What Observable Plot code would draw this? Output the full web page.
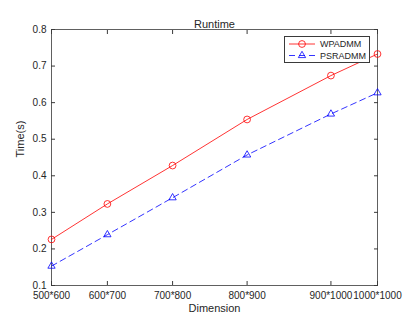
<!DOCTYPE html>
<html><head><meta charset="utf-8">
<script src="https://cdn.jsdelivr.net/npm/d3@7"></script>
<script src="https://cdn.jsdelivr.net/npm/@observablehq/plot@0.6"></script>
<style>
body{margin:0;background:#fff;}
#wrap{position:relative;width:416px;height:321px;font-family:"Liberation Sans",Arial,sans-serif;}
#legend{position:absolute;left:284px;top:36px;width:86px;height:27px;background:#fff;border:1px solid #3a3a3a;box-sizing:border-box;overflow:visible;}
</style></head>
<body><div id="wrap"></div>
<script>
const dims = ["500*600","600*700","700*800","800*900","900*1000","1000*1000"];
const sizes = [300000,420000,560000,720000,900000,1000000];
const wpadmm = [0.226,0.323,0.428,0.554,0.674,0.733];
const psradmm = [0.153,0.239,0.340,0.457,0.569,0.627];
const yTicks = [0.1,0.2,0.3,0.4,0.5,0.6,0.7,0.8];

const dataW = sizes.map((s,i)=>({x:s,y:wpadmm[i]}));
const dataP = sizes.map((s,i)=>({x:s,y:psradmm[i]}));
const lab = new Map(sizes.map((s,i)=>[s,dims[i]]));
const ink = "#262626";
const axc = "#3a3a3a";

const chart = Plot.plot({
  width:416, height:321,
  marginLeft:51, marginRight:39, marginTop:29, marginBottom:36,
  style:{fontFamily:"Liberation Sans, Arial, sans-serif", fontSize:"10px", color:ink, background:"#fff"},
  x:{type:"linear", domain:[300000,1000000]},
  y:{domain:[0.1,0.8]},
  marks:[
    Plot.frame({stroke:axc, strokeWidth:0.8}),
    Plot.axisX({ticks:sizes, tickSize:0, tickPadding:6, tickFormat:d=>lab.get(d), fontSize:10, fill:ink, label:null}),
    Plot.axisX({ticks:sizes, anchor:"bottom", tickSize:-4, tickFormat:()=>"", label:null, stroke:axc}),
    Plot.axisX({ticks:sizes, anchor:"top", tickSize:-4, tickFormat:()=>"", label:null, stroke:axc}),
    Plot.axisY({ticks:yTicks, tickSize:0, tickPadding:5, tickFormat:d=>d.toFixed(1), fontSize:10, fill:ink, label:null}),
    Plot.axisY({ticks:yTicks, anchor:"left", tickSize:-4, tickFormat:()=>"", label:null, stroke:axc}),
    Plot.axisY({ticks:yTicks, anchor:"right", tickSize:-4, tickFormat:()=>"", label:null, stroke:axc}),
    Plot.line(dataW,{x:"x",y:"y",stroke:"#ff0000",strokeWidth:0.8}),
    Plot.dot(dataW,{x:"x",y:"y",stroke:"#ff0000",r:3.4,strokeWidth:0.8,fill:"none"}),
    Plot.line(dataP,{x:"x",y:"y",stroke:"#0000ff",strokeWidth:0.8,strokeDasharray:"6,4"}),
    Plot.dot(dataP,{x:"x",y:"y",stroke:"#0000ff",symbol:"triangle",r:2.7,strokeWidth:0.8,fill:"none"}),
    Plot.text(["Runtime"],{frameAnchor:"top",dy:-9,fontSize:11,fill:ink}),
    Plot.text(["Dimension"],{frameAnchor:"bottom",dy:26,fontSize:11,fill:ink}),
    Plot.text(["Time(s)"],{frameAnchor:"left",dx:-31,rotate:-90,fontSize:11,fill:ink})
  ]
});
const wrap = document.getElementById("wrap");
wrap.appendChild(chart);
const leg = document.createElement("div");
leg.id="legend";
const tri = d3.symbol(d3.symbolTriangle, Math.PI*2.7*2.7)();
leg.innerHTML = `<svg width="90" height="27" style="position:absolute;left:-1px;top:-1px;overflow:visible">
<line x1="5" x2="31" y1="8" y2="8" stroke="#ff0000" stroke-width="0.8"/>
<circle cx="18" cy="8" r="3.4" stroke="#ff0000" fill="none" stroke-width="0.8"/>
<text x="36" y="11.2" font-size="9" fill="${ink}" font-family="Liberation Sans, Arial, sans-serif">WPADMM</text>
<line x1="5" x2="31" y1="19.5" y2="19.5" stroke="#0000ff" stroke-width="0.8" stroke-dasharray="6,4"/>
<path d="${tri}" transform="translate(18,19.5)" stroke="#0000ff" fill="none" stroke-width="0.8"/>
<text x="36" y="22.7" font-size="9" fill="${ink}" font-family="Liberation Sans, Arial, sans-serif">PSRADMM</text>
</svg>`;
wrap.appendChild(leg);
</script></body></html>
